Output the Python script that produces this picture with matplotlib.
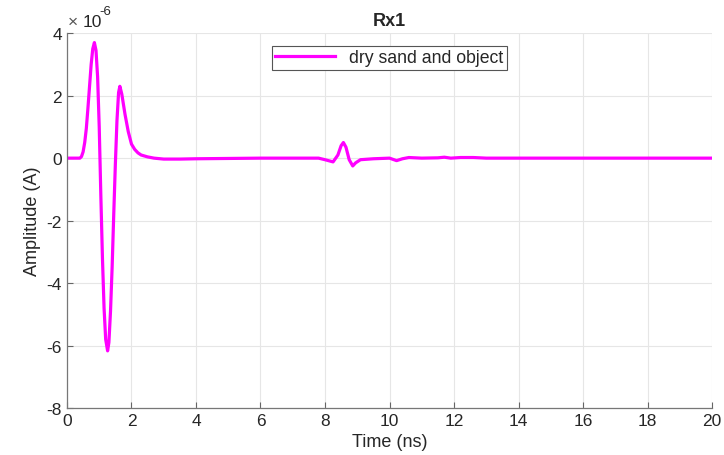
import numpy as np
import matplotlib
matplotlib.use("Agg")
import matplotlib.pyplot as plt
from matplotlib.ticker import FuncFormatter

# values (time in ns, amplitude in 1e-6 A)
time_ns = [0, 0.4, 0.45, 0.5, 0.55, 0.6, 0.65, 0.7, 0.75, 0.8, 0.85, 0.9, 0.95,
           1.0, 1.05, 1.1, 1.15, 1.2, 1.26, 1.3, 1.35, 1.4, 1.45, 1.5, 1.55,
           1.6, 1.64, 1.7, 1.8, 1.9, 2.0, 2.1, 2.2, 2.3, 2.5, 2.7, 3.0, 3.5,
           4.0, 5.0, 6.0, 7.0, 7.8, 8.0, 8.25, 8.4, 8.5, 8.57, 8.65, 8.75,
           8.86, 8.95, 9.1, 9.5, 10.0, 10.22, 10.4, 10.6, 11.0, 11.5, 11.7,
           11.9, 12.2, 12.6, 13.0, 14.0, 15.0, 20.0]
amp_u = [0, 0, 0.05, 0.2, 0.5, 0.95, 1.6, 2.3, 3.0, 3.5, 3.7, 3.45, 2.6,
         1.0, -1.2, -3.2, -4.8, -5.8, -6.17, -5.9, -4.9, -3.5, -1.8, -0.2, 1.2,
         2.1, 2.3, 2.05, 1.4, 0.85, 0.45, 0.28, 0.17, 0.1, 0.04, 0.0, -0.03, -0.03,
         -0.02, -0.01, 0, 0, 0, -0.05, -0.12, 0.1, 0.4, 0.5, 0.35, -0.05,
         -0.25, -0.15, -0.05, -0.02, 0.0, -0.08, -0.02, 0.02, 0.0, 0.01, 0.03,
         0.0, 0.02, 0.02, 0.0, 0.0, 0.0, 0.0]
series_label = "dry sand and object"

plt.rcParams["font.family"] = ["Liberation Sans", "DejaVu Sans"]
plt.rcParams["axes.unicode_minus"] = False

TEXT = "#262626"

fig = plt.figure(figsize=(7.24, 4.56), dpi=100)
ax = fig.add_axes([0.0925, 0.103, 0.891, 0.822])

amp = np.array(amp_u) * 1e-6
ax.plot(time_ns, amp, color="#ff00ff", linewidth=2.3, label=series_label)

ax.set_xlim(0, 20)
ax.set_ylim(-8e-6, 4e-6)
ax.set_xticks(np.arange(0, 21, 2))
ax.set_yticks(np.arange(-8e-6, 4.1e-6, 2e-6))
ax.yaxis.set_major_formatter(
    FuncFormatter(lambda v, pos: "%g" % (round(v * 1e6, 6) + 0.0)))

# exponent label like MATLAB
ax.text(0.002, 1.012, "\u00d7", transform=ax.transAxes, fontsize=12.5,
        color="#555555", ha="left", va="bottom")
ax.text(0.024, 1.012, "10", transform=ax.transAxes, fontsize=12.5,
        color=TEXT, ha="left", va="bottom")
ax.text(0.051, 1.042, "-6", transform=ax.transAxes, fontsize=9.5,
        color=TEXT, ha="left", va="bottom")

ax.grid(True, color="#e6e6e6", linewidth=0.8)
ax.set_axisbelow(True)
ax.tick_params(direction="in", labelsize=12.5, color="#666666", labelcolor=TEXT, length=4)
ax.spines["top"].set_visible(False)
ax.spines["right"].set_visible(False)
for side in ["left", "bottom"]:
    ax.spines[side].set_color("#777777")
    ax.spines[side].set_linewidth(0.9)

ax.set_xlabel("Time (ns)", fontsize=13, color=TEXT)
ax.set_ylabel("Amplitude (A)", fontsize=13, color=TEXT)
ax.set_title("Rx1", fontsize=13, fontweight="bold", color=TEXT)

leg = ax.legend(loc="upper center", bbox_to_anchor=(0.50, 0.99), fontsize=12.7,
                fancybox=False, framealpha=1, edgecolor="#555555",
                handlelength=3.4, borderpad=0.2)
leg.get_frame().set_linewidth(0.8)
for t in leg.get_texts():
    t.set_color(TEXT)

fig.savefig("out.png", dpi=100)
